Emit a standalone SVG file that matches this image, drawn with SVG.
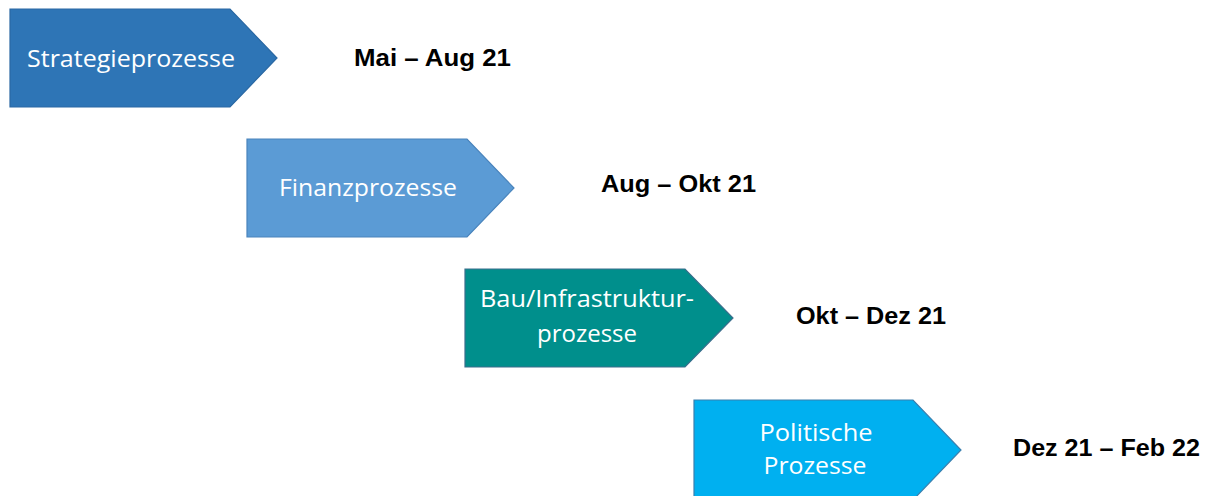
<svg xmlns="http://www.w3.org/2000/svg" width="1209" height="496" viewBox="0 0 1209 496">
<style>
.s{stroke-width:1.2}
.t{font-family:"Open Sans","Noto Sans",sans-serif;font-size:24px;fill:#ffffff;text-anchor:middle}
.d{font-family:"Liberation Sans","Arial",sans-serif;font-size:24px;font-weight:bold;fill:#000000}
</style>
<rect width="1209" height="496" fill="#ffffff"/>
<g id="n1">
<polygon class="s" points="10,9 230,9 277,58 230,107 10,107" fill="#2E75B6" stroke="#2A68A3"/>
<text class="t" x="131" y="67" textLength="208" lengthAdjust="spacingAndGlyphs">Strategieprozesse</text>
</g>
<g id="l1"><text class="d" x="354" y="66" textLength="157" lengthAdjust="spacingAndGlyphs">Mai – Aug 21</text></g>
<g id="n2">
<polygon class="s" points="247,139 467,139 514,188 467,237 247,237" fill="#5B9BD5" stroke="#4A84BC"/>
<text class="t" x="368" y="196" textLength="178" lengthAdjust="spacingAndGlyphs">Finanzprozesse</text>
</g>
<g id="l2"><text class="d" x="601" y="192" textLength="155" lengthAdjust="spacingAndGlyphs">Aug – Okt 21</text></g>
<g id="n3">
<polygon class="s" points="465,269 685,269 733,318 685,367 465,367" fill="#008F8C" stroke="#3A6E8C"/>
<text class="t" x="587" y="307" textLength="214" lengthAdjust="spacingAndGlyphs">Bau/Infrastruktur-</text>
<text class="t" x="587" y="342" textLength="100" lengthAdjust="spacingAndGlyphs">prozesse</text>
</g>
<g id="l3"><text class="d" x="796" y="324" textLength="150" lengthAdjust="spacingAndGlyphs">Okt – Dez 21</text></g>
<g id="n4">
<polygon class="s" points="694,400 913,400 961,450 913,500 694,500" fill="#00B0F0" stroke="#3A7FAE"/>
<text class="t" x="816" y="441" textLength="113" lengthAdjust="spacingAndGlyphs">Politische</text>
<text class="t" x="815" y="474" textLength="103" lengthAdjust="spacingAndGlyphs">Prozesse</text>
</g>
<g id="l4"><text class="d" x="1013" y="456" textLength="187" lengthAdjust="spacingAndGlyphs">Dez 21 – Feb 22</text></g>
<g id="connectors"></g>
</svg>
